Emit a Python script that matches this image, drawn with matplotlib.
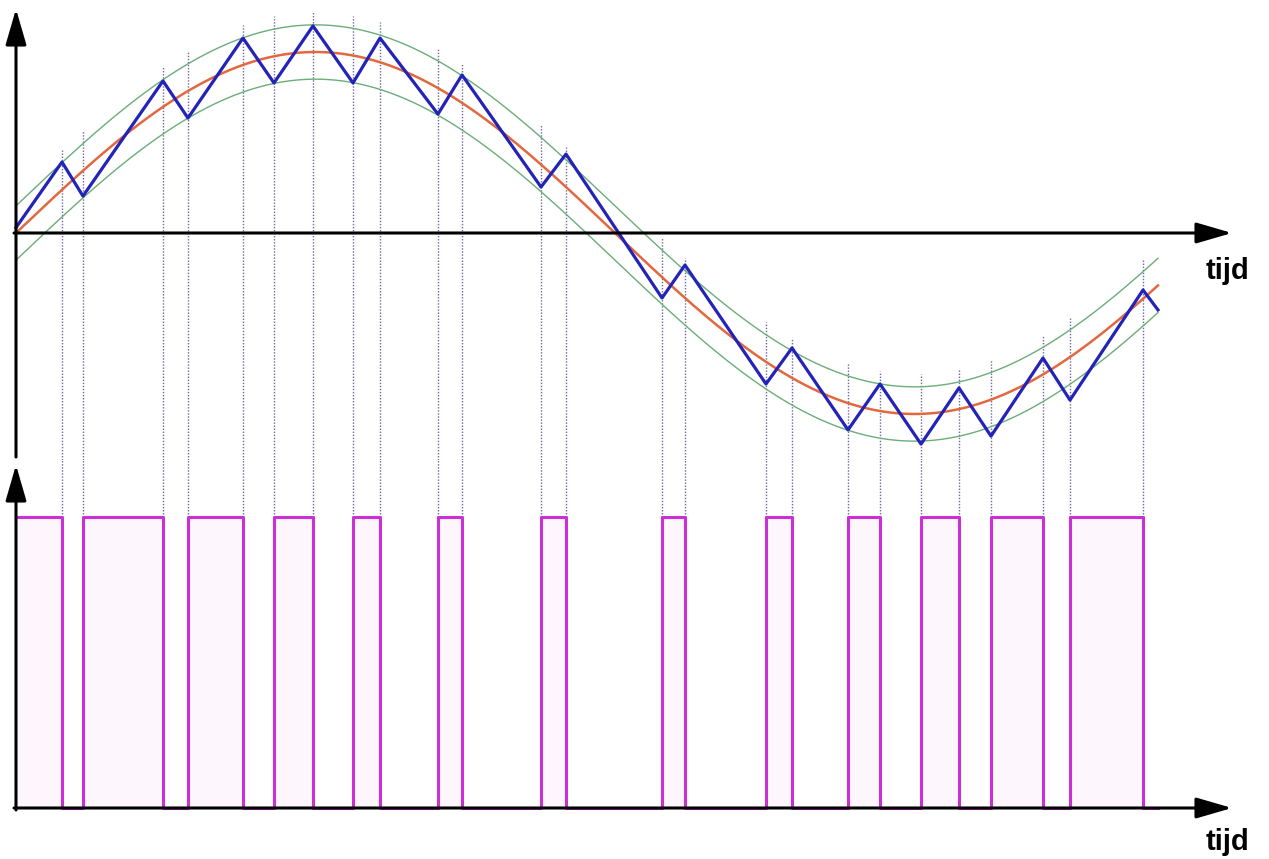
import numpy as np
import matplotlib.pyplot as plt

# reference current (sine), period 20 ms, amplitude 1 (per unit)
period = 20.0
amp = 1.0
band = 0.15          # hysteresis band half-width

# switching instants (ms) and current at each switching point
t_sw = [0.768, 1.118, 2.454, 2.871, 3.789, 4.307, 4.958, 5.626, 6.077,
        7.045, 7.446, 8.765, 9.182, 10.785, 11.168, 12.521, 12.955,
        13.890, 14.424, 15.109, 15.743, 16.277, 17.145, 17.596, 18.815]
i_sw = [0.392, 0.204, 0.840, 0.635, 1.077, 0.829, 1.144, 0.829, 1.077,
        0.657, 0.873, 0.254, 0.436, -0.359, -0.177, -0.834, -0.635,
        -1.088, -0.834, -1.166, -0.856, -1.122, -0.691, -0.923, -0.315]
t_start, i_start = 0.0, 0.03
t_end, i_end = 19.065, -0.425

axis_label = "tijd"

# colours
c_ref = "#e2683f"
c_band = "#6aae78"
c_act = "#2323b8"
c_dot = "#6a6aa0"
c_pulse = "#cc2fd6"
c_fill = "#fdf7fd"

W, H = 1269, 859
px = period / 1198.0          # ms per pixel
x_lim = (-16 * px, (W - 16) * px)

fig = plt.figure(figsize=(W / 100, H / 100), dpi=100)
ax1 = fig.add_axes([0, 1 - 460 / H, 1, 460 / H])
ax2 = fig.add_axes([0, 0, 1, 399 / H])
for ax in (ax1, ax2):
    ax.axis("off")
    ax.set_xlim(*x_lim)
ax1.set_ylim(-227 / 181, 233 / 181)
ax2.set_ylim(-51 / 291, 348 / 291)

blue_t = np.array([t_start] + t_sw + [t_end])
blue_i = np.array([i_start] + i_sw + [i_end])

tt = np.linspace(t_start, t_end, 600)
ref = amp * np.sin(2 * np.pi * tt / period)

# --- top: current ---
ax1.plot(tt, ref + band, color=c_band, lw=1.0, zorder=2)
ax1.plot(tt, ref - band, color=c_band, lw=1.0, zorder=2)
ax1.plot(tt, ref, color=c_ref, lw=1.8, zorder=3)
ax1.plot(blue_t, blue_i, color=c_act, lw=2.3, zorder=4)

tsw = np.array(t_sw)
top_dot = amp * np.sin(2 * np.pi * tsw / period) + band + 0.07
ax1.vlines(tsw, ax1.get_ylim()[0], top_dot, colors=c_dot, linestyles=(0, (1, 1.2)),
           lw=1.0, zorder=1)

# --- bottom: switching signal ---
state = (np.diff(blue_i) > 0).astype(float)
state = np.append(state, state[-1])
ax2.fill_between(blue_t, 0, state, step="post", color=c_fill, lw=0, zorder=0)
ax2.vlines(tsw, 1.0, ax2.get_ylim()[1], colors=c_dot, linestyles=(0, (1, 1.2)),
           lw=1.0, zorder=1)
ax2.step(blue_t, state, where="post", color=c_pulse, lw=2.2, zorder=2)

# axes with arrow heads
arr = dict(arrowstyle="-|>,head_length=1.1,head_width=0.32", color="black",
           lw=2.2, shrinkA=0, shrinkB=0, mutation_scale=20)
x_tip = (1232 - 16) * px
ax1.annotate("", xy=(0, 224 / 181), xytext=(0, -224 / 181), arrowprops=arr,
             annotation_clip=False, zorder=5)
ax1.annotate("", xy=(x_tip, 0), xytext=(-2 * px, 0), arrowprops=arr,
             annotation_clip=False, zorder=5)
ax2.annotate("", xy=(0, 343 / 291), xytext=(0, -2 / 291), arrowprops=arr,
             annotation_clip=False, zorder=5)
ax2.annotate("", xy=(x_tip, 0), xytext=(-2 * px, 0), arrowprops=arr,
             annotation_clip=False, zorder=5)

ax1.text((1228 - 16) * px, -38 / 181, axis_label, ha="center", va="center",
         fontsize=21, fontweight="bold", family="Liberation Sans")
ax2.text((1228 - 16) * px, -34 / 291, axis_label, ha="center", va="center",
         fontsize=21, fontweight="bold", family="Liberation Sans")

fig.savefig("out.png", dpi=100)
